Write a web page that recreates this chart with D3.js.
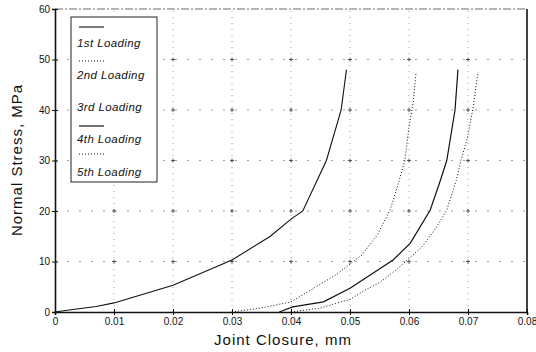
<!DOCTYPE html>
<html><head><meta charset="utf-8">
<script src="https://cdn.jsdelivr.net/npm/d3@7"></script>
<style>body{margin:0;background:#fff}svg{display:block}</style>
</head><body>
<script>
const xTicks = [0, 0.01, 0.02, 0.03, 0.04, 0.05, 0.06, 0.07, 0.08];
const xTickLabels = ["0", "0.01", "0.02", "0.03", "0.04", "0.05", "0.06", "0.07", "0.08"];
const yTicks = [0, 10, 20, 30, 40, 50, 60];
const seriesNames = ["1st Loading", "2nd Loading", "3rd Loading", "4th Loading", "5th Loading"];
const load1X = [0, 0.003, 0.007, 0.01, 0.02, 0.03, 0.0365, 0.04, 0.042, 0.046, 0.0485, 0.0494];
const load1Y = [0, 0.5, 1.1, 1.8, 5.3, 10.3, 15.0, 18.4, 20.0, 30.0, 40.0, 48.0];
const load2X = [0.03, 0.035, 0.04, 0.0478, 0.052, 0.0546, 0.0568, 0.058, 0.0593, 0.06, 0.0607, 0.0612];
const load2Y = [0, 0.8, 2.0, 7.5, 11.3, 15.2, 20.2, 24.7, 30.0, 36.6, 41.4, 47.5];
const load3X = [];
const load3Y = [];
const load4X = [0.038, 0.0403, 0.0455, 0.05, 0.0573, 0.0602, 0.0636, 0.0653, 0.0664, 0.0678, 0.0683];
const load4Y = [0, 1.0, 2.0, 4.7, 10.3, 13.6, 20.2, 26.0, 30.0, 40.0, 48.0];
const load5X = [0.04, 0.045, 0.05, 0.0525, 0.055, 0.058, 0.0622, 0.0645, 0.0664, 0.068, 0.0688, 0.0698, 0.0708, 0.0717];
const load5Y = [0, 0.8, 2.5, 4.3, 5.8, 8.5, 12.9, 16.5, 20.2, 26.0, 30.0, 34.0, 40.0, 47.5];

const W = 536, H = 352;
const svg = d3.select("body").append("svg").attr("width", W).attr("height", H);
const x = d3.scaleLinear().domain([0, 0.08]).range([55, 527]);
const y = d3.scaleLinear().domain([0, 60]).range([312, 9]);
const font = "'Liberation Sans', Arial, sans-serif";

// grid
const g = svg.append("g");
xTicks.slice(1, -1).forEach(t => {
  g.append("line").attr("x1", x(t)).attr("x2", x(t)).attr("y1", y(0)).attr("y2", y(60))
    .attr("stroke", "#888").attr("stroke-width", 0.8).attr("stroke-dasharray", "1,5");
});
yTicks.slice(1, -1).forEach(t => {
  g.append("line").attr("x1", x(0)).attr("x2", x(0.08)).attr("y1", y(t)).attr("y2", y(t))
    .attr("stroke", "#888").attr("stroke-width", 0.8).attr("stroke-dasharray", "2,10");
});
xTicks.slice(1, -1).forEach(tx => yTicks.slice(1, -1).forEach(ty => {
  g.append("path").attr("d", `M${x(tx)-2},${y(ty)}h4M${x(tx)},${y(ty)-2}v4`)
    .attr("stroke", "#333").attr("stroke-width", 0.8);
}));

// frame
svg.append("line").attr("x1", x(0)).attr("x2", x(0.08)).attr("y1", y(60)).attr("y2", y(60))
  .attr("stroke", "#444").attr("stroke-width", 0.8).attr("stroke-dasharray", "8,2,2,2");
svg.append("line").attr("x1", x(0.08)).attr("x2", x(0.08)).attr("y1", y(60)).attr("y2", y(0))
  .attr("stroke", "#111").attr("stroke-width", 1.6);

// axes
const xAxis = d3.axisBottom(x).tickValues(xTicks).tickFormat((d, i) => xTickLabels[i]).tickSize(3).tickPadding(3);
const yAxis = d3.axisLeft(y).tickValues(yTicks).tickSize(3).tickPadding(2);
const xa = svg.append("g").attr("transform", `translate(0,${y(0)})`).call(xAxis);
const ya = svg.append("g").attr("transform", `translate(${x(0)},0)`).call(yAxis);
[xa, ya].forEach(a => {
  a.select(".domain").attr("stroke", "#111").attr("stroke-width", 1.6);
  a.selectAll(".tick line").attr("stroke", "#111");
  a.selectAll("text").attr("font-family", font).attr("font-size", 10).attr("fill", "#111");
});
xa.selectAll(".tick line").attr("y1", -3);
ya.selectAll(".tick line").attr("x1", 3);

// curves
const line = d3.line().x(d => x(d[0])).y(d => y(d[1]));
const zip = (a, b) => a.map((v, i) => [v, b[i]]);
const styles = [
  {dash: null, w: 1.1},
  {dash: "1,2", w: 1.0},
  {dash: "4,2,1,2", w: 0.8},
  {dash: null, w: 1.2},
  {dash: "1,2", w: 1.0}
];
const data = [zip(load1X, load1Y), zip(load2X, load2Y), zip(load3X, load3Y), zip(load4X, load4Y), zip(load5X, load5Y)];
data.forEach((d, i) => {
  if (!d.length) return;
  svg.append("path").attr("d", line(d)).attr("fill", "none").attr("stroke", "#111")
    .attr("stroke-width", styles[i].w).attr("stroke-dasharray", styles[i].dash);
});

// legend
const lg = svg.append("g");
lg.append("rect").attr("x", 71).attr("y", 17).attr("width", 86).attr("height", 165)
  .attr("fill", "#fff").attr("stroke", "#222").attr("stroke-width", 1);
const lineYs = [27, 61, 94, 126, 154];
const textYs = [47, 79, 111, 143, 176];
seriesNames.forEach((n, i) => {
  if (i !== 2) {
    lg.append("line").attr("x1", 79).attr("x2", 104).attr("y1", lineYs[i]).attr("y2", lineYs[i])
      .attr("stroke", "#111").attr("stroke-width", styles[i].w).attr("stroke-dasharray", styles[i].dash);
  }
  lg.append("text").attr("x", 77).attr("y", textYs[i]).text(n)
    .attr("font-family", font).attr("font-size", 11.5).attr("letter-spacing", 0.4)
    .attr("font-style", "italic").attr("fill", "#111");
});

// titles
svg.append("text").attr("x", 283).attr("y", 345).attr("text-anchor", "middle")
  .attr("font-family", font).attr("font-size", 15).attr("letter-spacing", 1)
  .attr("fill", "#111").text("Joint  Closure, mm");
svg.append("text").attr("transform", "translate(22,160) rotate(-90)").attr("text-anchor", "middle")
  .attr("font-family", font).attr("font-size", 15).attr("letter-spacing", 1)
  .attr("fill", "#111").text("Normal  Stress, MPa");
</script>
</body></html>
